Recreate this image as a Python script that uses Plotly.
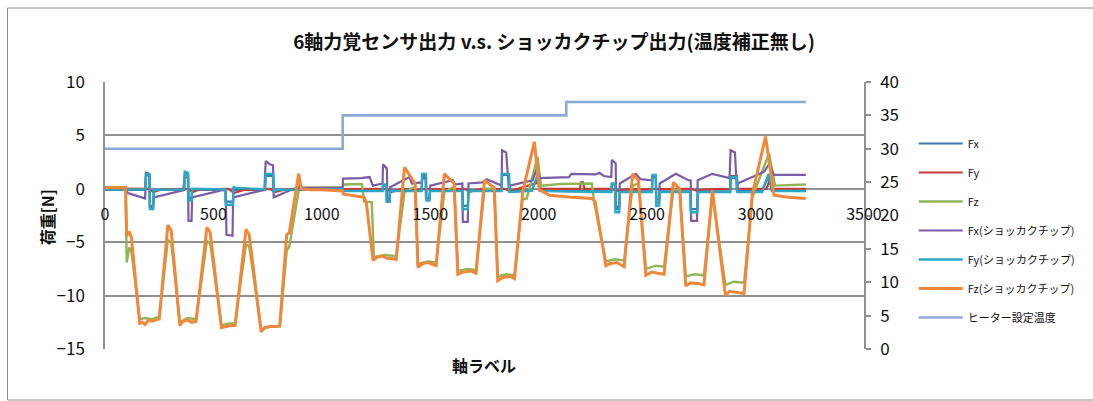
import plotly.graph_objects as go

# ---------------- data ----------------
title_text = "6軸力覚センサ出力 v.s. ショッカクチップ出力(温度補正無し)"
x_axis_title = "軸ラベル"
y_axis_title = "荷重[N]"

series_names = ["Fx", "Fy", "Fz", "Fx(ショッカクチップ)", "Fy(ショッカクチップ)",
                "Fz(ショッカクチップ)", "ヒーター設定温度"]

fx_x = [0, 185, 189, 205, 207, 222, 225, 365, 368, 383, 385, 399, 402, 555, 557, 590, 592,
        738, 741, 775, 778, 790, 1096, 1100, 1280, 1282, 1297, 1299, 1312, 1315, 1460, 1463,
        1480, 1482, 1496, 1499, 1648, 1650, 1673, 1676, 1829, 1831, 1863, 1865, 1968, 1995,
        2005, 2335, 2337, 2352, 2354, 2371, 2374, 2522, 2525, 2540, 2542, 2555, 2558, 2699,
        2701, 2732, 2735, 2883, 2885, 2914, 2916, 3030, 3060, 3075, 3232]
fx_y = [-0.1, -0.1, 1.3, 1.2, -1.6, -1.6, -0.1, -0.1, 1.4, 1.3, -0.9, -0.9, -0.1, -0.1, -1.2, -1.2, -0.1,
        -0.1, 1.2, 1.2, -0.2, -0.1, -0.1, -0.15, -0.15, 0.3, 0.3, -1.2, -1.2, -0.15, -0.15, 1.2,
        1.2, -0.9, -0.9, -0.15, -0.15, -1.6, -1.6, -0.15, -0.15, 1.3, 1.3, -0.2, -0.15, 1.1,
        -0.2, -0.25, 0.4, 0.4, -1.9, -1.9, -0.25, -0.25, 1.1, 1.1, -1.3, -1.3, -0.25, -0.25,
        -1.9, -1.9, -0.25, -0.25, 1.0, 1.0, -0.2, -0.2, 1.2, -0.15, -0.15]

fy_x = [0, 200, 225, 260, 380, 405, 440, 570, 595, 640, 760, 785, 830, 1096, 1100, 1300, 1320,
        1360, 1660, 1680, 1720, 1840, 1870, 2000, 2010, 2190, 2195, 2205, 2210, 2330, 2360,
        2400, 2700, 2730, 2770, 2883, 2885, 2914, 2916, 3050, 3065, 3080, 3232]
fy_y = [0.05, 0.0, -0.3, -0.05, 0.0, -0.3, -0.05, 0.0, -0.4, -0.1, 0.0, -0.3, -0.05, 0.0, 0.0, 0.0, -0.3,
        -0.05, 0.0, -0.3, -0.05, 0.0, -0.2, 0.6, 0.0, 0.0, 0.6, 0.6, 0.0, 0.0, -0.2,
        -0.05, 0.0, -0.2, -0.05, 0.0, 1.2, 1.2, 0.0, 0.0, 0.8, 0.0, 0.0]

fz_x = [0, 95, 100, 112, 122, 160, 185, 215, 250, 290, 305, 345, 380, 420, 470, 485, 537, 570,
        600, 650, 665, 720, 760, 806, 838, 850, 897, 910, 1096, 1100, 1185, 1195, 1230, 1240,
        1290, 1343, 1381, 1430, 1443, 1490, 1527, 1565, 1610, 1627, 1670, 1711, 1750, 1795,
        1811, 1850, 1888, 1925, 1945, 1995, 2010, 2100, 2245, 2256, 2310, 2350, 2394, 2433,
        2460, 2494, 2540, 2578, 2621, 2650, 2678, 2720, 2762, 2801, 2861, 2900, 2947, 2985,
        3062, 3090, 3232]
fz_y = [0.15, 0.15, -6.9, -5.5, -5.9, -12.2, -12.1, -12.2, -12.0, -4.8, -5.0, -12.5, -12.1, -12.2, -4.9, -5.1, -12.8, -12.6,
        -12.6, -5.2, -5.4, -13.2, -12.9, -12.9, -5.8, -5.4, 0.3, 0.1, 0.15, 0.4, 0.45, -1.2, -1.25, -6.4,
        -6.2, -6.3, -0.3, 0.2, -7.0, -6.8, -6.9, -0.3, 0.2, -7.7, -7.5, -7.6, 0.0, 0.0,
        -8.2, -8.0, -8.1, -1.0, -0.9, 3.0, 0.3, 0.45, 0.5, -1.3, -6.8, -6.6, -6.7, 0.3,
        0.5, -7.5, -7.2, -7.3, 0.0, -0.2, -8.2, -8.0, -8.1, -0.6, -9.0, -8.7, -8.8, -0.8,
        3.3, 0.3, 0.4]

fxc_x = [0, 95, 105, 185, 189, 205, 207, 222, 225, 360, 368, 383, 385, 399, 402, 545, 557, 560,
         588, 591, 735, 741, 760, 775, 778, 790, 870, 900, 1096, 1097, 1180, 1220, 1235, 1280,
         1282, 1300, 1302, 1312, 1315, 1404, 1415, 1460, 1463, 1478, 1480, 1496, 1500, 1604,
         1615, 1648, 1650, 1673, 1676, 1740, 1760, 1829, 1831, 1850, 1863, 1866, 1972, 1990,
         2003, 2140, 2150, 2264, 2280, 2300, 2335, 2337, 2355, 2357, 2371, 2374, 2448, 2470,
         2522, 2525, 2540, 2542, 2555, 2558, 2632, 2690, 2701, 2703, 2730, 2733, 2800, 2880,
         2885, 2905, 2914, 2917, 3000, 3040, 3062, 3085, 3232]
fxc_y = [0.05, 0.05, -0.4, -0.9, 1.5, 1.4, -1.7, -1.7, -0.8, -0.15, 1.1, 1.0, -3.0, -3.0, -0.8, -0.1, -0.3, -4.3,
         -4.4, -0.8, -0.1, 2.6, 2.3, 2.2, -0.8, -0.7, 0.0, 0.1, 0.1, 0.95, 1.0, 1.1, 0.3, 0.5,
         2.3, 1.9, -1.1, -1.1, 0.15, 1.1, 0.5, 0.6, 1.0, 1.0, -0.9, -0.9, 0.3, 0.8,
         0.4, 0.5, -3.1, -3.1, 0.5, 0.6, 0.9, 0.3, 3.6, 3.4, -0.3, 0.3, 0.8, 1.8,
         1.0, 1.1, 1.4, 1.35, 1.5, 1.2, 1.1, 2.7, 2.4, -1.7, -1.7, 0.5, 1.4, 0.9,
         0.8, 1.2, 1.2, -1.0, -1.0, 0.5, 1.4, 0.8, 0.8, -3.0, -3.0, 0.8, 1.4, 1.0,
         3.6, 3.4, -0.3, 0.5, 1.26, 1.6, 2.3, 1.3, 1.3]

fyc_x = [0, 185, 189, 205, 207, 222, 225, 365, 368, 383, 385, 399, 402, 555, 557, 590, 592, 600,
         738, 741, 775, 778, 790, 1096, 1100, 1280, 1282, 1297, 1299, 1312, 1315, 1460, 1463,
         1480, 1482, 1496, 1499, 1648, 1650, 1673, 1676, 1829, 1831, 1863, 1865, 1968, 1995,
         2005, 2150, 2335, 2337, 2352, 2354, 2371, 2374, 2522, 2525, 2540, 2542, 2555, 2558,
         2699, 2701, 2732, 2735, 2883, 2885, 2914, 2916, 3030, 3060, 3075, 3232]
fyc_y = [-0.05, -0.05, 1.4, 1.3, -1.9, -1.9, -0.1, -0.05, 1.6, 1.5, -1.1, -1.1, 0.0, -0.05, -1.5, -1.5, 0.2, 0.1,
         -0.05, 1.4, 1.4, -0.3, -0.1, -0.05, -0.2, -0.2, 0.4, 0.4, -1.2, -1.2, -0.2, -0.2, 1.4,
         1.4, -1.1, -1.1, -0.2, -0.2, -1.9, -1.9, -0.2, -0.2, 1.4, 1.4, -0.3, -0.2, 1.3,
         -0.2, -0.25, -0.3, 0.5, 0.5, -2.2, -2.2, -0.3, -0.3, 1.3, 1.3, -1.6, -1.6, -0.3,
         -0.3, -2.2, -2.2, -0.3, -0.3, 1.1, 1.1, -0.3, -0.3, 1.4, -0.2, -0.2]

fzc_x = [0, 95, 100, 112, 122, 160, 172, 185, 200, 215, 250, 290, 305, 345, 360, 380, 400, 420,
         470, 485, 537, 560, 580, 600, 650, 665, 720, 735, 760, 790, 806, 838, 850, 893, 905,
         950, 1000, 1096, 1100, 1195, 1205, 1236, 1255, 1280, 1300, 1343, 1381, 1430, 1443,
         1465, 1490, 1527, 1565, 1610, 1627, 1650, 1690, 1711, 1750, 1795, 1811, 1835, 1870,
         1888, 1927, 1980, 2003, 2050, 2150, 2245, 2260, 2310, 2330, 2360, 2394, 2433, 2460,
         2494, 2520, 2550, 2578, 2621, 2650, 2678, 2700, 2740, 2762, 2801, 2861, 2880, 2920,
         2947, 2985, 3046, 3085, 3150, 3232]
fzc_y = [0.1, 0.1, -4.4, -4.0, -4.6, -12.6, -12.5, -12.7, -12.3, -12.4, -12.2, -3.4, -3.9, -12.8, -12.4, -12.3, -12.5, -12.4,
         -3.6, -4.1, -13.0, -12.9, -12.8, -12.8, -3.8, -4.3, -13.4, -13.0, -12.9, -12.9, -12.8, -4.3, -4.1, 1.4, 0.0,
         -0.1, -0.1, -0.2, -0.5, -0.8, -1.3, -6.7, -6.4, -6.3, -6.5, -6.6, 2.0, 0.5, -7.35,
         -7.0, -6.9, -7.2, 1.4, 0.5, -8.0, -7.8, -7.7, -7.9, 0.8, 0.1, -8.6, -8.3, -8.2,
         -8.4, -0.2, 4.4, -0.1, -0.6, -0.8, -0.9, -1.2, -7.2, -7.0, -6.9, -7.3, 1.4, 0.8,
         -8.1, -7.8, -7.9, -8.0, 0.6, 0.0, -9.1, -8.8, -8.9, -9.0, -0.15, -10.0, -9.6, -9.7,
         -9.8, -0.5, 4.9, -0.6, -0.8, -0.9]

temp_x = [0, 1096, 2127, 3232]
temp_y = [30, 35, 37, 37]

left_ticks = [-15, -10, -5, 0, 5, 10]
right_ticks = [0, 5, 10, 15, 20, 25, 30, 35, 40]
x_ticks = [0, 500, 1000, 1500, 2000, 2500, 3000, 3500]

colors = ["#3b78b5", "#c43d36", "#8fb558", "#7b5ca6", "#2aa8c4", "#f0873a", "#89aad6"]
widths = [2.2, 2.2, 2.4, 2.2, 2.4, 3.0, 2.6]

# ---------------- figure ----------------
FONT = "Noto Sans CJK JP, Noto Sans, sans-serif"
GRID = "#909090"

fig = go.Figure()
data = [(fx_x, fx_y), (fy_x, fy_y), (fz_x, fz_y), (fxc_x, fxc_y), (fyc_x, fyc_y), (fzc_x, fzc_y)]
for i, (xs, ys) in enumerate(data):
    assert len(xs) == len(ys), (series_names[i], len(xs), len(ys))
    fig.add_trace(go.Scatter(x=xs, y=ys, mode="lines", name=series_names[i],
                             line=dict(color=colors[i], width=widths[i]),
                             legendgroup=f"g{i}"))
fig.add_trace(go.Scatter(x=temp_x, y=temp_y, mode="lines", name=series_names[6],
                         line=dict(color=colors[6], width=widths[6], shape="hv"),
                         yaxis="y2", legendgroup="g6"))

L, R, T, B = 105, 868, 82, 349
W, H = 1093, 401
pw, ph = R - L, B - T

def px_x(p):
    return (p - L) / pw

def px_y(p):
    return (B - p) / ph

fig.update_layout(
    width=W, height=H,
    margin=dict(l=L, r=W - R, t=T, b=H - B, pad=0),
    paper_bgcolor="white", plot_bgcolor="white",
    font=dict(family=FONT, color="#111111"),
    title=dict(text=f"<b>{title_text}</b>", x=554 / W, xref="container", xanchor="center",
               y=1 - 42 / H, yref="container", yanchor="middle",
               font=dict(size=19, family=FONT, color="#111111")),
    xaxis=dict(range=[0, 3500], tickvals=x_ticks, ticktext=[str(v) for v in x_ticks],
               anchor="free", position=0.6, showgrid=False, zeroline=False, showline=False,
               ticks="", ticklabelstandoff=14, tickfont=dict(size=16, family=FONT)),
    yaxis=dict(range=[-15, 10], tickvals=left_ticks, showgrid=True, gridcolor=GRID, gridwidth=1.5,
               zeroline=False, showline=True, linecolor=GRID, linewidth=1.5, ticks="",
               ticklabelstandoff=15, tickfont=dict(size=17, family=FONT)),
    yaxis2=dict(range=[0, 40], tickvals=right_ticks, overlaying="y", side="right",
                showgrid=False, zeroline=False, showline=True, linecolor=GRID, linewidth=1.5,
                ticks="outside", ticklen=5, tickcolor=GRID, tickwidth=1.5, ticklabelstandoff=6,
                tickfont=dict(size=17, family=FONT)),
    legend=dict(x=px_x(918), y=px_y(129), xanchor="left", yanchor="top",
                traceorder="grouped", tracegroupgap=10, itemwidth=44, bgcolor="rgba(0,0,0,0)",
                font=dict(size=11, family=FONT, color="#111111")),
    showlegend=True,
    annotations=[
        dict(text=f"<b>{x_axis_title}</b>", x=px_x(486), y=px_y(365), xref="paper", yref="paper",
             showarrow=False, xanchor="center", yanchor="middle", font=dict(size=16, family=FONT)),
        dict(text=f"<b>{y_axis_title}</b>", x=px_x(47), y=px_y(217), xref="paper", yref="paper",
             showarrow=False, xanchor="center", yanchor="middle", textangle=-90,
             font=dict(size=16, family=FONT)),
    ],
    shapes=[dict(type="rect", xref="paper", yref="paper", x0=px_x(7), x1=px_x(1100),
                 y0=px_y(400), y1=px_y(8), line=dict(color="#8c8c8c", width=1), layer="below")],
)

fig.write_html("out.html")
